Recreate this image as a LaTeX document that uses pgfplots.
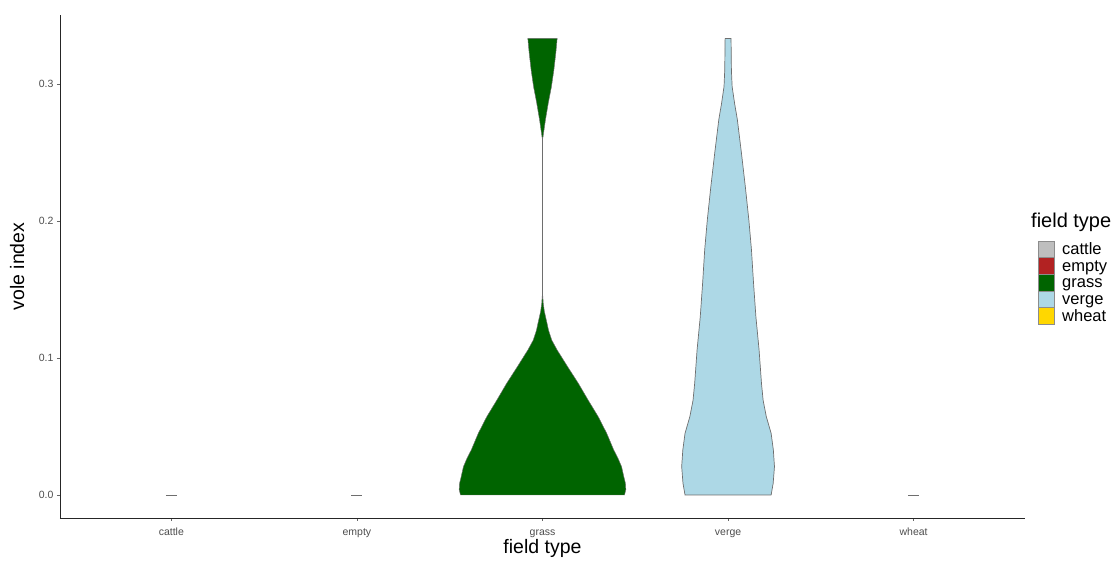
\documentclass[border=0pt]{standalone}
\usepackage{fontspec}
\setmainfont{Liberation Sans}
\usepackage{pgfplots}
\pgfplotsset{compat=1.18}
\definecolor{tickgrey}{HTML}{4D4D4D}
\definecolor{cattlec}{HTML}{BEBEBE}
\definecolor{emptyc}{HTML}{B22222}
\definecolor{grassc}{HTML}{006400}
\definecolor{vergec}{HTML}{ADD8E6}
\definecolor{wheatc}{HTML}{FFD700}
\definecolor{outl}{HTML}{6E6E6E}
\begin{document}
\begin{tikzpicture}[x=1pt,y=1pt]
\useasboundingbox (-60,-43) rectangle (1053,518);
\begin{axis}[
  at={(0,0)}, anchor=south west,
  scale only axis, width=965pt, height=503pt,
  xmin=0.4, xmax=5.6, ymin=-0.0168, ymax=0.3504,
  axis x line*=bottom, axis y line*=left,
  axis line style={black!85, line width=0.7pt, -},
  xtick={1,2,3,4,5}, xticklabels={cattle,empty,grass,verge,wheat},
  ytick={0,0.1,0.2,0.3}, yticklabels={0.0,0.1,0.2,0.3},
  tick align=outside, major tick length=3pt,
  tick style={black!60, line width=0.6pt},
  ticklabel style={font=\fontsize{10.5}{11}\selectfont, text=tickgrey},
  xticklabel style={text height=7.5pt, text depth=2pt, yshift=-3.5pt},
  xlabel={field type}, ylabel={vole index},
  label style={font=\fontsize{19.5}{22}\selectfont},
  xlabel style={at={(axis description cs:0.5,-0.0600)}, anchor=center},
  ylabel style={at={(axis description cs:-0.0445,0.5)}, anchor=center},
  clip=false,
]
% grass violin
\addplot[fill=grassc, draw=outl, line width=0.45pt] coordinates {
(3.442,0) (3.449,0.004) (3.447,0.0085) (3.438,0.0134) (3.426,0.0207) (3.406,0.027) (3.384,0.0328)
(3.346,0.045) (3.300,0.0572) (3.247,0.069) (3.193,0.0815) (3.135,0.0937) (3.079,0.1058)
(3.050,0.113) (3.033,0.120) (3.020,0.128) (3.010,0.134) (3.004,0.140) (3.0012,0.146) (3.0012,0.260)
(3.016,0.274) (3.031,0.286) (3.048,0.298) (3.061,0.310) (3.072,0.323) (3.079,0.3333)
(2.921,0.3333) (2.928,0.323) (2.939,0.310) (2.952,0.298) (2.969,0.286) (2.984,0.274)
(2.9988,0.260) (2.9988,0.146) (2.996,0.140) (2.990,0.134) (2.980,0.128) (2.967,0.120) (2.950,0.113)
(2.921,0.1058) (2.865,0.0937) (2.807,0.0815) (2.753,0.069) (2.700,0.0572) (2.654,0.045)
(2.616,0.0328) (2.594,0.027) (2.574,0.0207) (2.562,0.0134) (2.553,0.0085) (2.551,0.004) (2.558,0)
} -- cycle;
% verge violin
\addplot[fill=vergec, draw=outl, line width=0.7pt] coordinates {
(4.232,0) (4.243,0.0085) (4.250,0.0207) (4.244,0.0328) (4.232,0.045) (4.206,0.0572)
(4.189,0.069) (4.180,0.0815) (4.167,0.106) (4.150,0.130) (4.137,0.155) (4.126,0.179)
(4.112,0.2007) (4.093,0.225) (4.072,0.2496) (4.050,0.274) (4.035,0.286) (4.022,0.298)
(4.018,0.310) (4.016,0.3333)
(3.984,0.3333) (3.982,0.310) (3.978,0.298) (3.965,0.286) (3.950,0.274) (3.928,0.2496)
(3.907,0.225) (3.888,0.2007) (3.874,0.179) (3.863,0.155) (3.850,0.130) (3.833,0.106)
(3.820,0.0815) (3.811,0.069) (3.794,0.0572) (3.768,0.045) (3.756,0.0328) (3.750,0.0207)
(3.757,0.0085) (3.768,0)
} -- cycle;
% degenerate violins at zero
\addplot[outl, line width=0.7pt] coordinates {(0.97,0) (1.03,0)};
\addplot[outl, line width=0.7pt] coordinates {(1.97,0) (2.03,0)};
\addplot[outl, line width=0.7pt] coordinates {(4.97,0) (5.03,0)};
\end{axis}
% legend
\node[anchor=base west, inner sep=0pt, font=\fontsize{20}{22}\selectfont] at (971,290) {field type};
\foreach \c/\lab [count=\i from 0] in {cattlec/cattle,emptyc/empty,grassc/grass,vergec/verge,wheatc/wheat}{
  \fill[\c, draw=black!45, line width=0.5pt] (978.5,{277-16.67*\i}) rectangle (994.5,{277-16.67*(\i+1)});
  \node[anchor=base west, inner sep=0pt, font=\fontsize{16.5}{18}\selectfont] at (1002,{277-16.67*\i-13.5}) {\lab};
}
\end{tikzpicture}
\end{document}
